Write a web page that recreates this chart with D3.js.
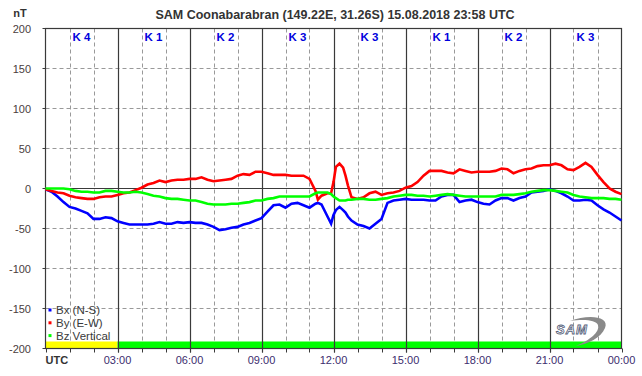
<!DOCTYPE html>
<html>
<head>
<meta charset="utf-8">
<script src="https://cdn.jsdelivr.net/npm/d3@7"></script>
<style>
  body { margin: 0; background: #fff; }
  svg text { font-family: "Liberation Sans", Arial, sans-serif; }
</style>
</head>
<body>
<div id="chart"></div>
<script>
// time in hours UTC
const hours = [0,0.25,0.5,0.75,1,1.25,1.5,1.75,2,2.25,2.5,2.75,3,3.25,3.5,3.75,4,4.25,4.5,4.75,5,5.25,5.5,5.75,6,6.25,6.5,6.75,7,7.25,7.5,7.75,8,8.25,8.5,8.75,9,9.25,9.5,9.75,10,10.25,10.5,10.75,11,11.25,11.35,11.5,11.75,11.9,12,12.1,12.25,12.4,12.5,12.6,12.75,13,13.25,13.5,13.75,14,14.25,14.5,14.75,15,15.25,15.5,15.75,16,16.25,16.5,16.75,17,17.25,17.5,17.75,18,18.25,18.5,18.75,19,19.25,19.5,19.75,20,20.25,20.5,20.75,21,21.25,21.5,21.75,22,22.25,22.5,22.75,23,23.25,23.5,23.75,24];
const bx = [-1,-4,-10,-17,-23,-25,-28,-31,-38,-38,-36,-37,-41,-43,-45,-45,-45,-45,-44,-42,-44,-44,-42,-43,-42,-43,-43,-45,-48,-52,-51,-49,-48,-45,-43,-40,-37,-29,-21,-20,-24,-19,-18,-21,-24,-19,-18,-20,-35,-44,-33,-27,-23,-27,-30,-35,-40,-45,-47,-50,-44,-38,-18,-15,-14,-13,-14,-14,-14,-15,-15,-10,-8,-8,-17,-15,-14,-17,-19,-20,-15,-12,-12,-15,-12,-10,-5,-4,-3,-1,-3,-6,-10,-15,-15,-14,-15,-21,-26,-30,-35,-40];
const by = [-1,-3,-5,-6,-9,-11,-12,-13,-13,-11,-10,-10,-8,-6,-5,-2,1,5,7,10,8,10,11,11,12,12,14,11,9,10,11,12,16,18,17,21,21,19,17,17,17,16,16,16,12,-3,-14,-9,-6,-6,8,27,31,26,16,4,-11,-13,-11,-6,-4,-8,-6,-5,-3,1,3,8,16,22,22,22,20,19,24,22,20,21,21,21,22,25,24,19,22,24,25,28,29,29,31,29,24,23,27,32,27,17,8,0,-4,-7];
const bz = [0,0,0,0,-1,-3,-4,-4,-5,-5,-3,-3,-4,-5,-5,-4,-5,-7,-9,-10,-12,-13,-13,-14,-15,-15,-17,-19,-20,-20,-20,-19,-19,-18,-17,-15,-15,-13,-12,-10,-10,-10,-10,-10,-10,-6,-5,-5,-5,-7,-10,-12,-15,-15,-15,-14,-14,-13,-13,-14,-14,-13,-12,-10,-9,-8,-8,-9,-9,-10,-9,-8,-7,-8,-9,-10,-10,-10,-10,-10,-10,-8,-8,-8,-7,-6,-4,-3,-2,-2,-3,-4,-5,-8,-10,-11,-12,-12,-12,-13,-13,-14];

const kIndex = ["K 4","K 1","K 2","K 3","K 3","K 1","K 2","K 3"];
const yTicks = [200,150,100,50,0,-50,-100,-150,-200];
const xTickLabels = ["UTC","03:00","06:00","09:00","12:00","15:00","18:00","21:00","00:00"];
const seriesNames = ["Bx (N-S)","By (E-W)","Bz Vertical"];
const seriesColors = ["#0000ff","#ff0000","#00ff00"];
// quality bar: first block yellow, rest green
const barBlocks = [{from:0,to:3,color:"#ffff00"},{from:3,to:24,color:"#00ff00"}];

const W = 642, H = 376;
const svg = d3.select("#chart").append("svg")
  .attr("width", W).attr("height", H);

const x = d3.scaleLinear().domain([0,24]).range([45.5, 621.5]);
const y = d3.scaleLinear().domain([-200,200]).range([348.5, 28.5]);

// title
svg.append("text")
  .attr("x", 335).attr("y", 19)
  .attr("text-anchor", "middle")
  .style("font-size", "12.5px").style("font-weight", "bold")
  .style("fill", "#333")
  .text("SAM Coonabarabran (149.22E, 31.26S) 15.08.2018 23:58 UTC");

svg.append("text")
  .attr("x", 20).attr("y", 17)
  .attr("text-anchor", "middle")
  .style("font-size", "11px").style("font-weight", "bold")
  .style("fill", "#333")
  .text("nT");

// grid: hourly dashed
svg.append("g").selectAll("line")
  .data(d3.range(1,24).filter(h => h % 3 !== 0))
  .join("line")
    .attr("x1", d => Math.round(x(d)) + 0.5).attr("x2", d => Math.round(x(d)) + 0.5)
    .attr("y1", y(200)).attr("y2", y(-200))
    .attr("stroke", "#999").attr("stroke-dasharray", "4,3");

svg.append("g").selectAll("line")
  .data(yTicks.filter(v => v !== 0 && Math.abs(v) !== 200))
  .join("line")
    .attr("x1", x(0)).attr("x2", x(24))
    .attr("y1", d => y(d)).attr("y2", d => y(d))
    .attr("stroke", "#999").attr("stroke-dasharray", "4,3");

// quality bar
svg.append("g").selectAll("rect")
  .data(barBlocks)
  .join("rect")
    .attr("x", d => x(d.from)).attr("width", d => x(d.to) - x(d.from))
    .attr("y", y(-200) - 7).attr("height", 7)
    .attr("fill", d => d.color);

// 3-hour solid lines
svg.append("g").selectAll("line")
  .data(d3.range(3,24,3))
  .join("line")
    .attr("x1", d => Math.round(x(d)) + 0.5).attr("x2", d => Math.round(x(d)) + 0.5)
    .attr("y1", y(200)).attr("y2", y(-200) + 4)
    .attr("stroke", "#3a3a3a").attr("stroke-width", 1.2);

// hourly ticks below axis
svg.append("g").selectAll("line")
  .data(d3.range(0,25))
  .join("line")
    .attr("x1", d => Math.round(x(d)) + 0.5).attr("x2", d => Math.round(x(d)) + 0.5)
    .attr("y1", y(-200)).attr("y2", y(-200) + 4)
    .attr("stroke", "#3a3a3a");

// zero line
svg.append("line")
  .attr("x1", x(0)).attr("x2", x(24))
  .attr("y1", y(0)).attr("y2", y(0))
  .attr("stroke", "#3a3a3a").attr("stroke-width", 1.2);

// frame
svg.append("rect")
  .attr("x", x(0)).attr("y", y(200))
  .attr("width", x(24) - x(0)).attr("height", y(-200) - y(200))
  .attr("fill", "none").attr("stroke", "#3a3a3a").attr("stroke-width", 1.2);

// y ticks + labels
svg.append("g").selectAll("line")
  .data(yTicks)
  .join("line")
    .attr("x1", x(0) - 3).attr("x2", x(0))
    .attr("y1", d => y(d)).attr("y2", d => y(d))
    .attr("stroke", "#3a3a3a");

svg.append("g").selectAll("text")
  .data(yTicks)
  .join("text")
    .attr("x", 31).attr("y", d => y(d) + 4)
    .attr("text-anchor", "end")
    .style("font-size", "11px").style("fill", "#4a3d3d")
    .text(d => d);

// x labels
svg.append("g").selectAll("text")
  .data(xTickLabels)
  .join("text")
    .attr("x", (d, i) => i === 0 ? x(0) : x(i * 3))
    .attr("y", 364)
    .attr("text-anchor", (d, i) => i === 0 ? "start" : "middle")
    .style("font-size", "11px")
    .style("font-weight", (d, i) => i === 0 ? "bold" : "normal")
    .style("fill", (d, i) => i === 0 ? "#333" : "#3c2d6e")
    .text(d => d);

// K index labels
svg.append("g").selectAll("text")
  .data(kIndex)
  .join("text")
    .attr("x", (d, i) => x(i * 3 + 1.5))
    .attr("y", 41)
    .attr("text-anchor", "middle")
    .style("font-size", "11.5px").style("font-weight", "bold")
    .style("fill", "#0000dd")
    .text(d => d);

// lines
const series = [bx, by, bz];
const line = d3.line()
  .x((d, i) => x(hours[i]))
  .y(d => y(d));

svg.append("g").selectAll("path")
  .data(series)
  .join("path")
    .attr("d", d => line(d))
    .attr("fill", "none")
    .attr("stroke", (d, i) => seriesColors[i])
    .attr("stroke-width", 2.6)
    .attr("stroke-linejoin", "miter");

// legend
const legend = svg.append("g").selectAll("g")
  .data(seriesNames)
  .join("g")
    .attr("transform", (d, i) => `translate(50, ${310 + i * 12.8})`);
legend.append("rect")
  .attr("x", -1.5).attr("y", -1.5).attr("width", 3).attr("height", 3)
  .attr("fill", (d, i) => seriesColors[i]);
legend.append("text")
  .attr("x", 6).attr("y", 4)
  .style("font-size", "11.5px").style("fill", "#3a3a3a")
  .text(d => d);

// SAM logo
const logo = svg.append("g").attr("transform", "translate(548, 318)");
logo.append("path")
  .attr("d", "M22,3 C40,-4 62,-2 57,10 C53,20 40,26 28,28 C42,22 52,14 50,7 C48,2 36,1 22,3 Z")
  .attr("fill", "#8a8a8a");
logo.append("text")
  .attr("x", 8).attr("y", 16)
  .style("font-size", "13px").style("font-weight", "bold").style("font-style", "italic")
  .style("fill", "#fff").style("stroke", "#55607a").style("stroke-width", 0.8)
  .style("letter-spacing", "1px")
  .text("SAM");
</script>
</body>
</html>
